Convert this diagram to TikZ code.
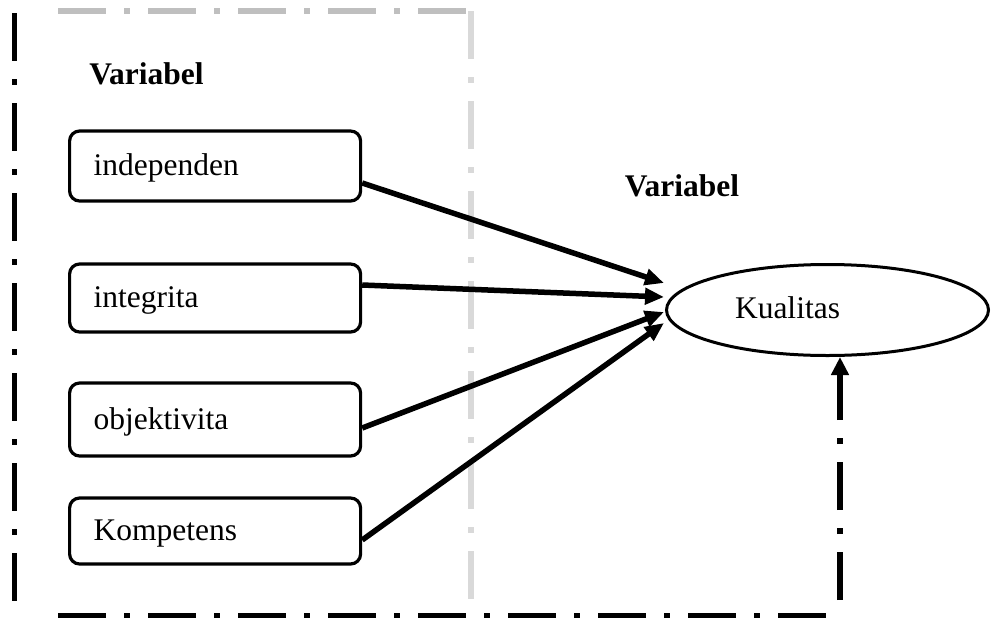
\documentclass[tikz,border=0pt]{standalone}
\usepackage{fontspec}
\setmainfont{Liberation Serif}
\usetikzlibrary{arrows.meta,shapes.geometric}
\definecolor{grayA}{HTML}{BFBFBF}
\definecolor{grayB}{HTML}{D9D9D9}
\tikzset{
  txt/.style={font=\fontsize{31.5}{38}\selectfont},
  varbox/.style={txt, draw, line width=3.2pt, rounded corners=10pt,
    minimum width=291pt, text width=243pt, inner xsep=24pt, inner ysep=0pt,
    text height=24pt, text depth=5pt,
    align=left, anchor=west},
  frameline/.style={line width=5.5pt, dash pattern=on 48pt off 18pt on 6pt off 18pt},
  tipstyle/.style={-{Triangle[length=18pt,width=17pt]}},
  link/.style={line width=5.5pt, -{Triangle[length=19pt,width=16pt]}},
}
\begin{document}
\begin{tikzpicture}[x=1pt,y=-1pt]
\useasboundingbox (0,0) rectangle (991,619);

% frame lines
\coordinate (tl) at (14.5,13);
\coordinate (bl) at (14.5,601);
\coordinate (gtl) at (58,11);
\coordinate (gtr) at (466,11);
\coordinate (gvt) at (471,11);
\coordinate (gvb) at (471,599);
\coordinate (bbl) at (58,615.5);
\coordinate (bbr) at (826,615.5);
\coordinate (rb) at (840,600);

\draw[frameline] (tl) -- (bl);
\draw[frameline, grayA] (gtl) -- (gtr);
\draw[frameline, grayB] (gvt) -- (gvb);
\draw[frameline] (bbl) -- (bbr);

% headings
\node[txt, font=\fontsize{31.5}{38}\selectfont\bfseries] (var1) at (146.5,74) {Variabel};
\node[txt, font=\fontsize{31.5}{38}\selectfont\bfseries] (var2) at (682,186) {Variabel};

% boxes
\node[varbox, minimum height=70pt] (indep) at (68,166) {independen};
\node[varbox, minimum height=68pt] (integ) at (68,298) {integrita};
\node[varbox, minimum height=73pt] (objek) at (68,419.5) {objektivita};
\node[varbox, minimum height=66pt] (kompet) at (68,531) {Kompetens};

% ellipse
\node[draw, ellipse, line width=3pt, minimum width=322pt, minimum height=91pt, inner sep=0pt] (kual) at (827.5,310) {};
\node[txt] (kualtext) at (787.5,308) {Kualitas};

% links
\draw[link] ([yshift=-17pt]indep.east) -- ([xshift=-1pt,yshift=27pt]kual.west);
\draw[link] ([yshift=13pt]integ.east) -- ([xshift=-1pt,yshift=13pt]kual.west);
\draw[link] ([yshift=-8.5pt]objek.east) -- ([xshift=-1pt,yshift=-2pt]kual.west);
\draw[link] ([yshift=-9pt]kompet.east) -- ([xshift=-1pt,yshift=-13pt]kual.west);

% right vertical with arrow
\draw[frameline, tipstyle] (rb) -- (rb |- kual.south);
\end{tikzpicture}
\end{document}
